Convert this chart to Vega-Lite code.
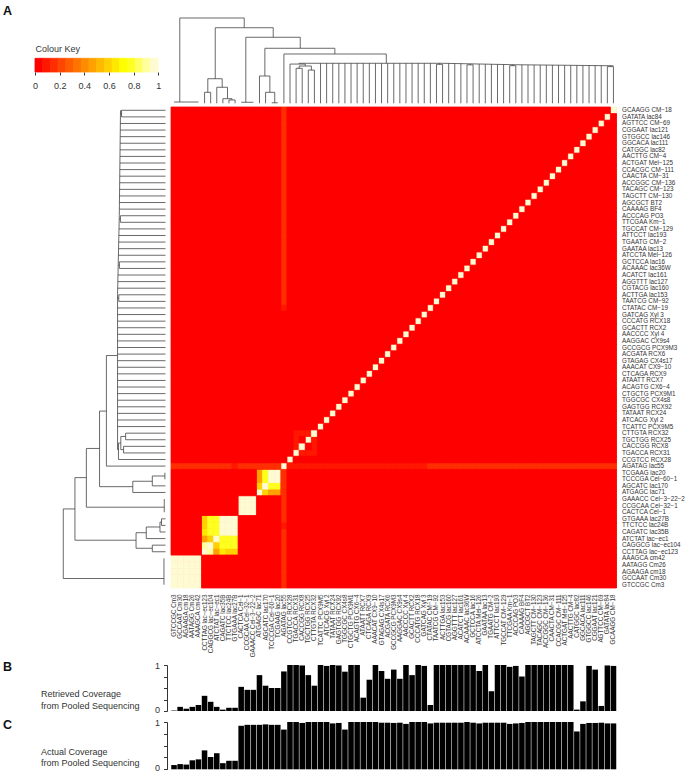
{"$schema":"https://vega.github.io/schema/vega-lite/v6.json","padding":0,"background":"white","config":{"font":"Liberation Sans","view":{"stroke":null},"axis":{"grid":false,"labelColor":"#333","titleColor":"#333","tickColor":"#333","domainColor":"#333"}},
"datasets":{"lib":[
{"i":1,"name":"GTCCGC Cm3","retrieved":0.01,"actual":0.09},{"i":2,"name":"GCCAAT Cm30","retrieved":0.09,"actual":0.11},{"i":3,"name":"AGAAGA cm18","retrieved":0.05,"actual":0.10},{"i":4,"name":"AATAGG Cm26","retrieved":0.09,"actual":0.19},{"i":5,"name":"AAAGCA cm42","retrieved":0.13,"actual":0.21},{"i":6,"name":"CCTTAG lac−ec123","retrieved":0.33,"actual":0.40},{"i":7,"name":"CAGGCG lac−ec104","retrieved":0.20,"actual":0.26},{"i":8,"name":"ATCTAT lac−ec1","retrieved":0.09,"actual":0.34},{"i":9,"name":"CAGATC lac35B","retrieved":0.03,"actual":0.13},{"i":10,"name":"TTCTCC lac24B","retrieved":0.07,"actual":0.18},{"i":11,"name":"GTGAAA lac27B","retrieved":0.07,"actual":0.18},{"i":12,"name":"CACTCA Cel−1","retrieved":0.525,"actual":0.92},{"i":13,"name":"CCGCAA Cel−32−1","retrieved":0.46,"actual":0.94},{"i":14,"name":"GAAACC Cel−3−22−2","retrieved":0.46,"actual":0.94},{"i":15,"name":"ATGAGC lac71","retrieved":0.78,"actual":0.94},{"i":16,"name":"AGCATC lac170","retrieved":0.55,"actual":0.95},{"i":17,"name":"TCCCGA Cel−60−1","retrieved":0.50,"actual":0.94},{"i":18,"name":"TCGAAG lac20","retrieved":0.50,"actual":0.94},{"i":19,"name":"AGATAG lac55","retrieved":0.86,"actual":0.84},{"i":20,"name":"CCGTCC RCX28","retrieved":1.0,"actual":1.0},{"i":21,"name":"TGACCA RCX31","retrieved":1.0,"actual":1.0},{"i":22,"name":"CACCGG RCX8","retrieved":0.99,"actual":0.98},{"i":23,"name":"TGCTGG RCX25","retrieved":0.78,"actual":1.0},{"i":24,"name":"CTTGTA RCX32","retrieved":0.55,"actual":1.0},{"i":25,"name":"TCATTC PCX9M5","retrieved":1.0,"actual":1.0},{"i":26,"name":"ATCACG Xyl 2","retrieved":0.98,"actual":1.0},{"i":27,"name":"TATAAT RCX24","retrieved":1.0,"actual":0.97},{"i":28,"name":"GAGTGG RCX92","retrieved":0.99,"actual":0.98},{"i":29,"name":"TGGCGC CX4s8","retrieved":0.855,"actual":0.84},{"i":30,"name":"CTGCTG PCX9M1","retrieved":1.0,"actual":1.0},{"i":31,"name":"ACAGTG CX6−4","retrieved":1.0,"actual":1.0},{"i":32,"name":"ATAATT RCX7","retrieved":0.29,"actual":1.0},{"i":33,"name":"CTCAGA RCX9","retrieved":0.68,"actual":1.0},{"i":34,"name":"AAACAT CX9−10","retrieved":1.0,"actual":1.0},{"i":35,"name":"GTAGAG CX4s17","retrieved":0.87,"actual":0.985},{"i":36,"name":"ACGATA RCX6","retrieved":0.70,"actual":0.985},{"i":37,"name":"GCCGCG PCX9M3","retrieved":0.90,"actual":0.98},{"i":38,"name":"AAGGAC CX9s4","retrieved":0.70,"actual":0.985},{"i":39,"name":"AACCCC Xyl 4","retrieved":1.0,"actual":0.96},{"i":40,"name":"GCACTT RCX2","retrieved":0.78,"actual":1.0},{"i":41,"name":"CCCATG RCX18","retrieved":1.0,"actual":1.0},{"i":42,"name":"GATCAG Xyl 3","retrieved":0.98,"actual":1.0},{"i":43,"name":"CTATAC CM−19","retrieved":0.13,"actual":0.97},{"i":44,"name":"TAATCG CM−92","retrieved":1.0,"actual":0.985},{"i":45,"name":"ACTTGA lac153","retrieved":1.0,"actual":0.985},{"i":46,"name":"CGTACG lac160","retrieved":1.0,"actual":0.985},{"i":47,"name":"AGGTTT lac127","retrieved":1.0,"actual":0.985},{"i":48,"name":"ACATCT lac161","retrieved":1.0,"actual":0.985},{"i":49,"name":"ACAAAC lac36W","retrieved":1.0,"actual":1.0},{"i":50,"name":"GCTCCA lac16","retrieved":1.0,"actual":0.985},{"i":51,"name":"ATCCTA Mel−126","retrieved":0.87,"actual":0.97},{"i":52,"name":"GAATAA lac13","retrieved":1.0,"actual":0.985},{"i":53,"name":"TGAATG CM−2","retrieved":0.43,"actual":0.985},{"i":54,"name":"ATTCCT lac193","retrieved":1.0,"actual":0.985},{"i":55,"name":"TGCCAT CM−129","retrieved":1.0,"actual":0.985},{"i":56,"name":"TTCGAA Km−1","retrieved":0.96,"actual":0.96},{"i":57,"name":"ACCCAG PO3","retrieved":0.98,"actual":0.97},{"i":58,"name":"CAAAAG BF4","retrieved":0.75,"actual":0.98},{"i":59,"name":"AGCGCT BT2","retrieved":1.0,"actual":1.0},{"i":60,"name":"TAGCTT CM−130","retrieved":1.0,"actual":1.0},{"i":61,"name":"TACAGC CM−123","retrieved":1.0,"actual":1.0},{"i":62,"name":"ACCGGC CM−136","retrieved":1.0,"actual":1.0},{"i":63,"name":"CAACTA CM−31","retrieved":1.0,"actual":1.0},{"i":64,"name":"CCACGC CM−111","retrieved":1.0,"actual":1.0},{"i":65,"name":"ACTGAT Mel−125","retrieved":1.0,"actual":1.0},{"i":66,"name":"AACTTG CM−4","retrieved":1.0,"actual":1.0},{"i":67,"name":"CATGGC lac82","retrieved":0.03,"actual":0.80},{"i":68,"name":"GGCACA lac111","retrieved":0.21,"actual":0.96},{"i":69,"name":"GTGGCC lac146","retrieved":0.98,"actual":0.98},{"i":70,"name":"CGGAAT lac121","retrieved":0.90,"actual":0.98},{"i":71,"name":"AGTTCC CM−69","retrieved":0.11,"actual":0.985},{"i":72,"name":"GATATA lac84","retrieved":0.99,"actual":0.97},{"i":73,"name":"GCAAGG CM−18","retrieved":0.98,"actual":0.97}],
"tree":[{"p1":1.94,"p2":12.5,"h1":1,"h2":1},{"p1":1.94,"p2":1.94,"h1":1,"h2":0.015},{"p1":1,"p2":5,"h1":0.015,"h2":0.015},{"p1":12.5,"p2":12.5,"h1":1,"h2":0.886},{"p1":7.75,"p2":17.25,"h1":0.886,"h2":0.886},{"p1":7.75,"p2":7.75,"h1":0.886,"h2":0.288},{"p1":6.53,"p2":8.89,"h1":0.288,"h2":0.288},{"p1":6.53,"p2":6.53,"h1":0.288,"h2":0.129},{"p1":6,"p2":7,"h1":0.129,"h2":0.129},{"p1":6,"p2":6,"h1":0.129,"h2":0},{"p1":7,"p2":7,"h1":0.129,"h2":0},{"p1":8.89,"p2":8.89,"h1":0.288,"h2":0.188},{"p1":8,"p2":9.76,"h1":0.188,"h2":0.188},{"p1":8,"p2":8,"h1":0.188,"h2":0},{"p1":9.76,"p2":9.76,"h1":0.188,"h2":0.054},{"p1":9,"p2":10.5,"h1":0.054,"h2":0.054},{"p1":9,"p2":9,"h1":0.054,"h2":0},{"p1":10.5,"p2":10.5,"h1":0.054,"h2":0.039},{"p1":10,"p2":11,"h1":0.039,"h2":0.039},{"p1":10,"p2":10,"h1":0.039,"h2":0},{"p1":11,"p2":11,"h1":0.039,"h2":0},{"p1":17.25,"p2":17.25,"h1":0.886,"h2":0.774},{"p1":12.76,"p2":21.68,"h1":0.774,"h2":0.774},{"p1":12.76,"p2":12.76,"h1":0.774,"h2":0.012},{"p1":12,"p2":14,"h1":0.012,"h2":0.012},{"p1":21.68,"p2":21.68,"h1":0.774,"h2":0.645},{"p1":15.88,"p2":27.35,"h1":0.645,"h2":0.645},{"p1":15.88,"p2":15.88,"h1":0.645,"h2":0.32},{"p1":15,"p2":16.7,"h1":0.32,"h2":0.32},{"p1":15,"p2":15,"h1":0.32,"h2":0},{"p1":16.7,"p2":16.7,"h1":0.32,"h2":0.129},{"p1":16,"p2":17.5,"h1":0.129,"h2":0.129},{"p1":16,"p2":16,"h1":0.129,"h2":0},{"p1":17.5,"p2":17.5,"h1":0.129,"h2":0.006},{"p1":17,"p2":18,"h1":0.006,"h2":0.006},{"p1":27.35,"p2":27.35,"h1":0.645,"h2":0.578},{"p1":19,"p2":35.78,"h1":0.578,"h2":0.578},{"p1":19,"p2":19,"h1":0.578,"h2":0},{"p1":35.78,"p2":35.78,"h1":0.578,"h2":0.469},{"p1":21.5,"p2":45,"h1":0.469,"h2":0.469},{"p1":45,"p2":57,"h1":0.469,"h2":0.452},{"p1":57,"p2":73,"h1":0.452,"h2":0.44},{"p1":21.5,"p2":21.5,"h1":0.469,"h2":0.46},{"p1":20,"p2":22.5,"h1":0.46,"h2":0.46},{"p1":20,"p2":20,"h1":0.46,"h2":0},{"p1":22.5,"p2":22.5,"h1":0.46,"h2":0.437},{"p1":21.5,"p2":23.5,"h1":0.437,"h2":0.437},{"p1":21.5,"p2":21.5,"h1":0.437,"h2":0.41},{"p1":21,"p2":22,"h1":0.41,"h2":0.41},{"p1":21,"p2":21,"h1":0.41,"h2":0},{"p1":22,"p2":22,"h1":0.41,"h2":0},{"p1":23.5,"p2":23.5,"h1":0.437,"h2":0.39},{"p1":23,"p2":24,"h1":0.39,"h2":0.39},{"p1":23,"p2":23,"h1":0.39,"h2":0},{"p1":24,"p2":24,"h1":0.39,"h2":0},
{"p1":25,"p2":25,"h1":0.469,"h2":0},{"p1":26,"p2":26,"h1":0.469,"h2":0},{"p1":27,"p2":27,"h1":0.469,"h2":0},{"p1":28,"p2":28,"h1":0.469,"h2":0},{"p1":29,"p2":29,"h1":0.469,"h2":0},{"p1":30,"p2":30,"h1":0.469,"h2":0},{"p1":31,"p2":31,"h1":0.469,"h2":0},{"p1":32,"p2":32,"h1":0.469,"h2":0},{"p1":33,"p2":33,"h1":0.469,"h2":0},{"p1":34,"p2":34,"h1":0.469,"h2":0},{"p1":35,"p2":35,"h1":0.469,"h2":0},{"p1":36,"p2":36,"h1":0.469,"h2":0},{"p1":37,"p2":37,"h1":0.469,"h2":0},{"p1":38,"p2":38,"h1":0.469,"h2":0},{"p1":39,"p2":39,"h1":0.469,"h2":0},{"p1":40,"p2":40,"h1":0.469,"h2":0},{"p1":41,"p2":41,"h1":0.469,"h2":0},{"p1":42,"p2":42,"h1":0.469,"h2":0},{"p1":43,"p2":43,"h1":0.469,"h2":0},{"p1":44,"p2":44,"h1":0.457,"h2":0},{"p1":45,"p2":45,"h1":0.457,"h2":0},{"p1":44,"p2":45,"h1":0.457,"h2":0.457},{"p1":44.5,"p2":44.5,"h1":0.469,"h2":0.457},{"p1":46,"p2":46,"h1":0.468,"h2":0},{"p1":47,"p2":47,"h1":0.466,"h2":0},{"p1":48,"p2":48,"h1":0.465,"h2":0},{"p1":49,"p2":49,"h1":0.451,"h2":0},{"p1":50,"p2":50,"h1":0.451,"h2":0},{"p1":49,"p2":50,"h1":0.451,"h2":0.451},{"p1":49.5,"p2":49.5,"h1":0.463,"h2":0.451},{"p1":51,"p2":51,"h1":0.46,"h2":0},{"p1":52,"p2":52,"h1":0.459,"h2":0},{"p1":53,"p2":53,"h1":0.458,"h2":0},{"p1":54,"p2":54,"h1":0.456,"h2":0},{"p1":55,"p2":55,"h1":0.455,"h2":0},{"p1":56,"p2":56,"h1":0.441,"h2":0},{"p1":57,"p2":57,"h1":0.441,"h2":0},{"p1":56,"p2":57,"h1":0.441,"h2":0.441},{"p1":56.5,"p2":56.5,"h1":0.453,"h2":0.441},{"p1":58,"p2":58,"h1":0.451,"h2":0},{"p1":59,"p2":59,"h1":0.45,"h2":0},{"p1":60,"p2":60,"h1":0.45,"h2":0},{"p1":61,"p2":61,"h1":0.449,"h2":0},{"p1":62,"p2":62,"h1":0.448,"h2":0},{"p1":63,"p2":63,"h1":0.448,"h2":0},{"p1":64,"p2":64,"h1":0.447,"h2":0},{"p1":65,"p2":65,"h1":0.446,"h2":0},{"p1":66,"p2":66,"h1":0.445,"h2":0},{"p1":67,"p2":67,"h1":0.445,"h2":0},{"p1":68,"p2":68,"h1":0.444,"h2":0},{"p1":69,"p2":69,"h1":0.443,"h2":0},{"p1":70,"p2":70,"h1":0.443,"h2":0},{"p1":71,"p2":71,"h1":0.442,"h2":0},{"p1":72,"p2":72,"h1":0.43,"h2":0},{"p1":73,"p2":73,"h1":0.43,"h2":0},{"p1":72,"p2":73,"h1":0.43,"h2":0.43},{"p1":72.5,"p2":72.5,"h1":0.44,"h2":0.43}],
"key":[{"lo":0,"hi":0.0625},{"lo":0.0625,"hi":0.125},{"lo":0.125,"hi":0.1875},{"lo":0.1875,"hi":0.25},{"lo":0.25,"hi":0.3125},{"lo":0.3125,"hi":0.375},{"lo":0.375,"hi":0.4375},{"lo":0.4375,"hi":0.5},{"lo":0.5,"hi":0.5625},{"lo":0.5625,"hi":0.625},{"lo":0.625,"hi":0.6875},{"lo":0.6875,"hi":0.75},{"lo":0.75,"hi":0.8125},{"lo":0.8125,"hi":0.875},{"lo":0.875,"hi":0.9375},{"lo":0.9375,"hi":1}],
"cells":[
{"a":1,"b":1,"v":1},{"a":1,"b":2,"v":1},{"a":1,"b":3,"v":1},{"a":1,"b":4,"v":1},{"a":1,"b":5,"v":1},{"a":2,"b":1,"v":1},{"a":2,"b":2,"v":1},{"a":2,"b":3,"v":1},{"a":2,"b":4,"v":1},{"a":2,"b":5,"v":1},{"a":3,"b":1,"v":1},{"a":3,"b":2,"v":1},{"a":3,"b":3,"v":1},{"a":3,"b":4,"v":1},{"a":3,"b":5,"v":1},{"a":4,"b":1,"v":1},{"a":4,"b":2,"v":1},{"a":4,"b":3,"v":1},{"a":4,"b":4,"v":1},{"a":4,"b":5,"v":1},{"a":5,"b":1,"v":1},{"a":5,"b":2,"v":1},{"a":5,"b":3,"v":1},{"a":5,"b":4,"v":1},{"a":5,"b":5,"v":1},
{"a":6,"b":6,"v":1},{"a":6,"b":7,"v":0.92},{"a":6,"b":8,"v":0.45},{"a":6,"b":9,"v":0.65},{"a":6,"b":10,"v":0.62},{"a":6,"b":11,"v":0.6},
{"a":7,"b":6,"v":0.92},{"a":7,"b":7,"v":1},{"a":7,"b":8,"v":0.58},{"a":7,"b":9,"v":0.78},{"a":7,"b":10,"v":0.75},{"a":7,"b":11,"v":0.75},
{"a":8,"b":6,"v":0.45},{"a":8,"b":7,"v":0.58},{"a":8,"b":8,"v":1},{"a":8,"b":9,"v":0.78},{"a":8,"b":10,"v":0.78},{"a":8,"b":11,"v":0.78},
{"a":9,"b":6,"v":0.65},{"a":9,"b":7,"v":0.78},{"a":9,"b":8,"v":0.78},{"a":9,"b":9,"v":1},{"a":9,"b":10,"v":0.97},{"a":9,"b":11,"v":0.97},
{"a":10,"b":6,"v":0.62},{"a":10,"b":7,"v":0.75},{"a":10,"b":8,"v":0.78},{"a":10,"b":9,"v":0.97},{"a":10,"b":10,"v":1},{"a":10,"b":11,"v":0.97},
{"a":11,"b":6,"v":0.6},{"a":11,"b":7,"v":0.75},{"a":11,"b":8,"v":0.78},{"a":11,"b":9,"v":0.97},{"a":11,"b":10,"v":0.97},{"a":11,"b":11,"v":1},
{"a":12,"b":12,"v":1},{"a":12,"b":13,"v":1},{"a":12,"b":14,"v":1},{"a":13,"b":12,"v":1},{"a":13,"b":13,"v":1},{"a":13,"b":14,"v":1},{"a":14,"b":12,"v":1},{"a":14,"b":13,"v":1},{"a":14,"b":14,"v":1},
{"a":15,"b":15,"v":1},{"a":15,"b":16,"v":0.62},{"a":15,"b":17,"v":0.45},{"a":15,"b":18,"v":0.45},{"a":16,"b":15,"v":0.62},{"a":16,"b":16,"v":1},{"a":16,"b":17,"v":0.75},{"a":16,"b":18,"v":0.75},{"a":17,"b":15,"v":0.45},{"a":17,"b":16,"v":0.75},{"a":17,"b":17,"v":1},{"a":17,"b":18,"v":0.97},{"a":18,"b":15,"v":0.45},{"a":18,"b":16,"v":0.75},{"a":18,"b":17,"v":0.97},{"a":18,"b":18,"v":1},
{"a":19,"b":19,"v":1},{"a":20,"b":20,"v":1},
{"a":21,"b":21,"v":1},{"a":21,"b":22,"v":0.07},{"a":21,"b":23,"v":0.07},{"a":21,"b":24,"v":0.07},{"a":22,"b":21,"v":0.07},{"a":22,"b":22,"v":1},{"a":22,"b":24,"v":0.07},{"a":23,"b":21,"v":0.07},{"a":23,"b":23,"v":1},{"a":23,"b":24,"v":0.07},{"a":24,"b":21,"v":0.07},{"a":24,"b":22,"v":0.07},{"a":24,"b":23,"v":0.07},{"a":24,"b":24,"v":1},
{"a":25,"b":25,"v":1},{"a":26,"b":26,"v":1},{"a":27,"b":27,"v":1},{"a":28,"b":28,"v":1},{"a":29,"b":29,"v":1},{"a":30,"b":30,"v":1},{"a":31,"b":31,"v":1},{"a":32,"b":32,"v":1},{"a":33,"b":33,"v":1},{"a":34,"b":34,"v":1},{"a":35,"b":35,"v":1},{"a":36,"b":36,"v":1},{"a":37,"b":37,"v":1},{"a":38,"b":38,"v":1},{"a":39,"b":39,"v":1},{"a":40,"b":40,"v":1},{"a":41,"b":41,"v":1},{"a":42,"b":42,"v":1},{"a":43,"b":43,"v":1},{"a":44,"b":44,"v":1},{"a":45,"b":45,"v":1},{"a":46,"b":46,"v":1},{"a":47,"b":47,"v":1},{"a":48,"b":48,"v":1},{"a":49,"b":49,"v":1},{"a":50,"b":50,"v":1},{"a":51,"b":51,"v":1},{"a":52,"b":52,"v":1},{"a":53,"b":53,"v":1},{"a":54,"b":54,"v":1},{"a":55,"b":55,"v":1},{"a":56,"b":56,"v":1},{"a":57,"b":57,"v":1},{"a":58,"b":58,"v":1},{"a":59,"b":59,"v":1},{"a":60,"b":60,"v":1},{"a":61,"b":61,"v":1},{"a":62,"b":62,"v":1},{"a":63,"b":63,"v":1},{"a":64,"b":64,"v":1},{"a":65,"b":65,"v":1},{"a":66,"b":66,"v":1},{"a":67,"b":67,"v":1},{"a":68,"b":68,"v":1},{"a":69,"b":69,"v":1},{"a":70,"b":70,"v":1},{"a":71,"b":71,"v":1},{"a":72,"b":72,"v":1},{"a":73,"b":73,"v":1},
{"a":1,"b":19,"v":0.13},{"a":2,"b":19,"v":0.13},{"a":3,"b":19,"v":0.13},{"a":4,"b":19,"v":0.13},{"a":5,"b":19,"v":0.13},{"a":6,"b":19,"v":0.13},{"a":7,"b":19,"v":0.13},{"a":8,"b":19,"v":0.13},{"a":9,"b":19,"v":0.13},{"a":10,"b":19,"v":0.13},{"a":11,"b":19,"v":0.07},{"a":12,"b":19,"v":0.13},{"a":13,"b":19,"v":0.13},{"a":14,"b":19,"v":0.13},{"a":15,"b":19,"v":0.13},{"a":16,"b":19,"v":0.13},{"a":17,"b":19,"v":0.13},{"a":18,"b":19,"v":0.13},
{"a":20,"b":19,"v":0.07},{"a":21,"b":19,"v":0.07},{"a":22,"b":19,"v":0.07},{"a":23,"b":19,"v":0.07},{"a":24,"b":19,"v":0.07},{"a":25,"b":19,"v":0.07},{"a":26,"b":19,"v":0.07},{"a":27,"b":19,"v":0.07},{"a":28,"b":19,"v":0.07},{"a":29,"b":19,"v":0.07},{"a":30,"b":19,"v":0.07},{"a":31,"b":19,"v":0.07},{"a":32,"b":19,"v":0.07},{"a":33,"b":19,"v":0.07},{"a":34,"b":19,"v":0.07},{"a":35,"b":19,"v":0.07},{"a":36,"b":19,"v":0.07},{"a":37,"b":19,"v":0.07},{"a":38,"b":19,"v":0.07},{"a":39,"b":19,"v":0.07},{"a":40,"b":19,"v":0.07},{"a":41,"b":19,"v":0.07},{"a":42,"b":19,"v":0.07},
{"a":43,"b":19,"v":0.13},{"a":44,"b":19,"v":0.13},{"a":45,"b":19,"v":0.13},{"a":46,"b":19,"v":0.13},{"a":47,"b":19,"v":0.13},{"a":48,"b":19,"v":0.13},{"a":49,"b":19,"v":0.13},{"a":50,"b":19,"v":0.13},{"a":51,"b":19,"v":0.13},{"a":52,"b":19,"v":0.13},{"a":53,"b":19,"v":0.13},{"a":54,"b":19,"v":0.13},{"a":55,"b":19,"v":0.13},{"a":56,"b":19,"v":0.13},{"a":57,"b":19,"v":0.13},{"a":58,"b":19,"v":0.13},{"a":59,"b":19,"v":0.13},{"a":60,"b":19,"v":0.13},{"a":61,"b":19,"v":0.13},{"a":62,"b":19,"v":0.13},{"a":63,"b":19,"v":0.13},{"a":64,"b":19,"v":0.13},{"a":65,"b":19,"v":0.13},{"a":66,"b":19,"v":0.13},{"a":67,"b":19,"v":0.13},{"a":68,"b":19,"v":0.13},{"a":69,"b":19,"v":0.13},{"a":70,"b":19,"v":0.13},{"a":71,"b":19,"v":0.13},{"a":72,"b":19,"v":0.13},{"a":73,"b":19,"v":0.13},
{"a":19,"b":1,"v":0.13},{"a":19,"b":2,"v":0.13},{"a":19,"b":3,"v":0.13},{"a":19,"b":4,"v":0.13},{"a":19,"b":5,"v":0.13},{"a":19,"b":6,"v":0.13},{"a":19,"b":7,"v":0.13},{"a":19,"b":8,"v":0.13},{"a":19,"b":9,"v":0.13},{"a":19,"b":10,"v":0.07},{"a":19,"b":11,"v":0.13},{"a":19,"b":12,"v":0.13},{"a":19,"b":13,"v":0.13},{"a":19,"b":14,"v":0.13},{"a":19,"b":15,"v":0.13},{"a":19,"b":16,"v":0.13},{"a":19,"b":17,"v":0.13},{"a":19,"b":18,"v":0.13},
{"a":19,"b":43,"v":0.07},{"a":19,"b":44,"v":0.13},{"a":19,"b":45,"v":0.13},{"a":19,"b":46,"v":0.13},{"a":19,"b":47,"v":0.13},{"a":19,"b":48,"v":0.13},{"a":19,"b":49,"v":0.13},{"a":19,"b":50,"v":0.13},{"a":19,"b":51,"v":0.13},{"a":19,"b":52,"v":0.13},{"a":19,"b":53,"v":0.13},{"a":19,"b":54,"v":0.13},{"a":19,"b":55,"v":0.13},{"a":19,"b":56,"v":0.13},{"a":19,"b":57,"v":0.13},{"a":19,"b":58,"v":0.13},{"a":19,"b":59,"v":0.13},{"a":19,"b":60,"v":0.13},{"a":19,"b":61,"v":0.13},{"a":19,"b":62,"v":0.13},{"a":19,"b":63,"v":0.13},{"a":19,"b":64,"v":0.13},{"a":19,"b":65,"v":0.13},{"a":19,"b":66,"v":0.13},{"a":19,"b":67,"v":0.13},{"a":19,"b":68,"v":0.13},{"a":19,"b":69,"v":0.13},{"a":19,"b":70,"v":0.13},{"a":19,"b":71,"v":0.13},{"a":19,"b":72,"v":0.13},{"a":19,"b":73,"v":0.13}]},
"columns":2,"spacing":0,"bounds":"flush","align":"each",
"concat":[
{"width":170.5,"height":106.5,"title":{"text":"A","anchor":"start","frame":"group","fontSize":12.5,"fontWeight":"bold","color":"#111","dx":3,"dy":21},"data":{"name":"key"},"mark":{"type":"rect","strokeWidth":0.8},"encoding":{"x":{"field":"lo","type":"quantitative","scale":{"domain":[-0.2839,1.099],"nice":false,"zero":false},"axis":{"values":[0,0.2,0.4,0.6,0.8,1],"format":"~g","offset":-34.5,"domain":false,"tickSize":3,"labelFontSize":9,"labelPadding":6,"title":"Colour Key","titleFontSize":9,"titleFontWeight":"normal","titleAlign":"left","titleBaseline":"middle","titleX":35,"titleY":-24}},"x2":{"field":"hi"},"y":{"datum":0,"type":"quantitative","scale":{"domain":[-2.518,5.255],"nice":false,"zero":false},"axis":null},"y2":{"datum":1},"color":{"field":"lo","type":"quantitative","legend":null,"scale":{"type":"quantize","domain":[0,1],"nice":false,"range":["#FF0000","#FF1700","#FF2E00","#FF4600","#FF5D00","#FF7400","#FF8B00","#FFA200","#FFB900","#FFD100","#FFE800","#FFFF00","#FFFF20","#FFFF60","#FFFF9F","#FEFBD3"]}},"stroke":{"field":"lo","type":"quantitative","legend":null,"scale":{"type":"quantize","domain":[0,1],"nice":false,"range":["#FF0000","#FF1700","#FF2E00","#FF4600","#FF5D00","#FF7400","#FF8B00","#FFA200","#FFB900","#FFD100","#FFE800","#FFFF00","#FFFF20","#FFFF60","#FFFF9F","#FEFBD3"]}}}},
{"width":445.5,"height":106.5,"data":{"name":"tree"},"mark":{"type":"rule","color":"#444","strokeWidth":0.8},"encoding":{"x":{"field":"p1","type":"quantitative","scale":{"domain":[0.5,73.5],"nice":false,"zero":false},"axis":null},"x2":{"field":"p2"},"y":{"field":"h1","type":"quantitative","scale":{"domain":[-0.0375,1.211],"nice":false,"zero":false},"axis":null},"y2":{"field":"h2"}}},
{"width":170.5,"height":481,"data":{"name":"tree"},"mark":{"type":"rule","color":"#444","strokeWidth":0.8},"encoding":{"y":{"field":"p1","type":"quantitative","scale":{"domain":[0.5,73.5],"nice":false,"zero":false},"axis":null},"y2":{"field":"p2"},"x":{"field":"h1","type":"quantitative","scale":{"domain":[1.619,-0.049],"nice":false,"zero":false},"axis":null},"x2":{"field":"h2"}}},
{"width":445.5,"height":481,"view":{"fill":"#FF0000"},"data":{"name":"cells"},"transform":[{"impute":"v","key":"a","groupby":["b"],"value":0},{"lookup":"a","from":{"data":{"name":"lib"},"key":"i","fields":["name"]},"as":["col"]},{"lookup":"b","from":{"data":{"name":"lib"},"key":"i","fields":["name"]},"as":["row"]}],"mark":{"type":"rect","strokeWidth":0.8},"encoding":{"x":{"field":"col","type":"ordinal","sort":{"field":"a","op":"min"},"scale":{"paddingInner":0,"paddingOuter":0},"axis":{"title":null,"domain":false,"ticks":false,"labelAngle":-90,"labelFontSize":6.3,"labelPadding":6,"labelOverlap":false,"labelBound":false,"labelLimit":200}},"y":{"field":"row","type":"ordinal","sort":{"field":"b","op":"min","order":"descending"},"scale":{"paddingInner":0,"paddingOuter":0},"axis":{"orient":"right","title":null,"domain":false,"ticks":false,"labelFontSize":6.3,"labelPadding":5,"labelOverlap":false,"labelBound":false,"labelLimit":200}},"color":{"field":"v","type":"quantitative","legend":null,"scale":{"type":"quantize","domain":[0,1],"nice":false,"range":["#FF0000","#FF1700","#FF2E00","#FF4600","#FF5D00","#FF7400","#FF8B00","#FFA200","#FFB900","#FFD100","#FFE800","#FFFF00","#FFFF20","#FFFF60","#FFFF9F","#FEFBD3"]}},"stroke":{"field":"v","type":"quantitative","legend":null,"scale":{"type":"quantize","domain":[0,1],"nice":false,"range":["#FF0000","#FF1700","#FF2E00","#FF4600","#FF5D00","#FF7400","#FF8B00","#FFA200","#FFB900","#FFD100","#FFE800","#FFFF00","#FFFF20","#FFFF60","#FFFF9F","#FEFBD3"]}}}},
{"width":170.5,"height":76.5,"data":{"values":[]},"mark":"point"},
{"width":445.5,"height":76.5,"data":{"values":[]},"mark":"point"},
{"width":170.5,"height":46,"title":{"text":"B","anchor":"start","frame":"group","fontSize":12.5,"fontWeight":"bold","color":"#111","dx":3,"dy":12},"data":{"values":[]},"mark":"point"},
{"width":445.5,"height":46,"data":{"name":"lib"},"mark":{"type":"bar","color":"#000"},"encoding":{"x":{"field":"name","type":"ordinal","sort":{"field":"i","op":"min"},"scale":{"paddingInner":0.09,"paddingOuter":0.04},"axis":null},"y":{"field":"retrieved","type":"quantitative","scale":{"domain":[0,1],"nice":false},"axis":{"values":[0,0.25,0.5,0.75,1],"labelExpr":"datum.value==0||datum.value==1?datum.value+'':''","labelOffset":{"condition":{"test":"datum.value==0","value":-2},"value":0},"offset":4,"tickSize":3.5,"labelFontSize":9,"labelPadding":4,"title":["Retrieved Coverage","from Pooled Sequencing"],"titleFontSize":9,"titleFontWeight":"normal","titleAngle":0,"titleAlign":"left","titleBaseline":"middle","titleLineHeight":11.5,"titleX":-126.5,"titleY":28.7}}}},
{"width":170.5,"height":11,"data":{"values":[]},"mark":"point"},
{"width":445.5,"height":11,"data":{"values":[]},"mark":"point"},
{"width":170.5,"height":47.3,"title":{"text":"C","anchor":"start","frame":"group","fontSize":12.5,"fontWeight":"bold","color":"#111","dx":3,"dy":13.7},"data":{"values":[]},"mark":"point"},
{"width":445.5,"height":47.3,"data":{"name":"lib"},"mark":{"type":"bar","color":"#000"},"encoding":{"x":{"field":"name","type":"ordinal","sort":{"field":"i","op":"min"},"scale":{"paddingInner":0.09,"paddingOuter":0.04},"axis":null},"y":{"field":"actual","type":"quantitative","scale":{"domain":[0,1],"nice":false},"axis":{"values":[0,0.25,0.5,0.75,1],"labelExpr":"datum.value==0||datum.value==1?datum.value+'':''","labelOffset":{"condition":{"test":"datum.value==0","value":-2},"value":0},"offset":4,"tickSize":3.5,"labelFontSize":9,"labelPadding":4,"title":["Actual Coverage","from Pooled Sequencing"],"titleFontSize":9,"titleFontWeight":"normal","titleAngle":0,"titleAlign":"left","titleBaseline":"middle","titleLineHeight":11.5,"titleX":-126.5,"titleY":29}}}}
]}
